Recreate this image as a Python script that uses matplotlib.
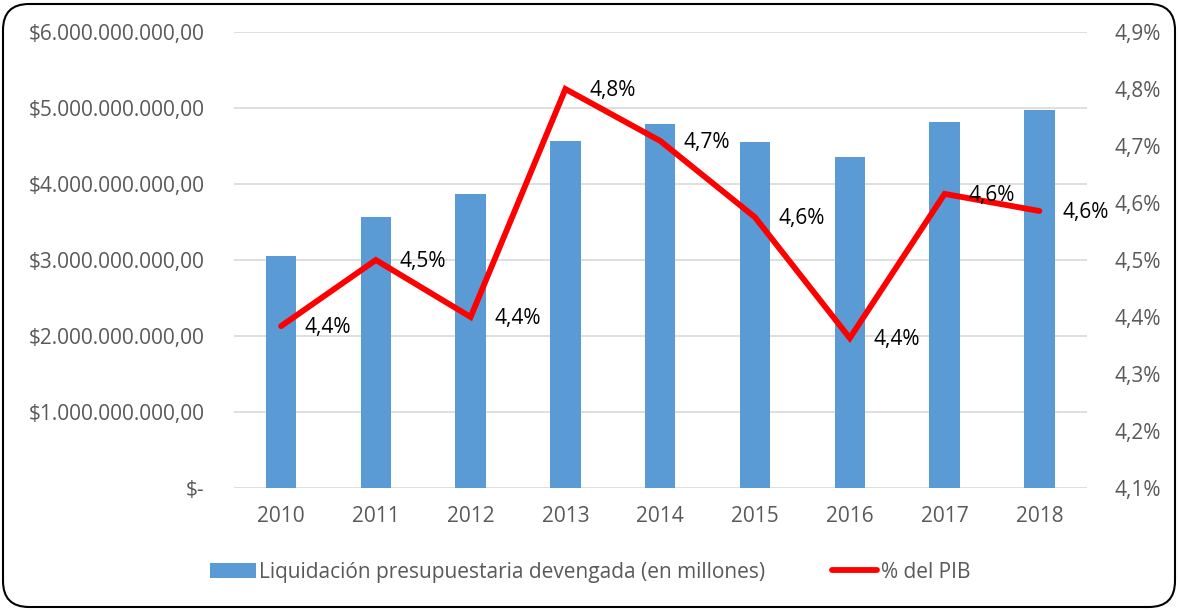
import matplotlib
matplotlib.use("Agg")
import matplotlib.pyplot as plt
from matplotlib.patches import FancyBboxPatch
from matplotlib.transforms import IdentityTransform
from matplotlib.ticker import FuncFormatter, MultipleLocator

years = ["2010", "2011", "2012", "2013", "2014", "2015", "2016", "2017", "2018"]
liquidacion = [3.05e9, 3.57e9, 3.87e9, 4.57e9, 4.79e9, 4.55e9, 4.36e9, 4.82e9, 4.97e9]
pct_pib = [4.384, 4.50, 4.40, 4.80, 4.709, 4.575, 4.363, 4.616, 4.586]
pct_labels = ["4,4%", "4,5%", "4,4%", "4,8%", "4,7%", "4,6%", "4,4%", "4,6%", "4,6%"]

plt.rcParams['font.family'] = ['Open Sans', 'DejaVu Sans']

fig = plt.figure(figsize=(11.8, 6.1), dpi=100)
border = FancyBboxPatch((3, 3), 1172, 603, boxstyle="round,pad=0,rounding_size=26",
                        transform=IdentityTransform(), facecolor="none", edgecolor="black",
                        linewidth=1.5, zorder=5)
fig.patches.append(border)

ax = fig.add_axes([0.198, 0.2, 0.723, 0.7475])
ax.set_facecolor("none")
x = list(range(len(years)))
bars = ax.bar(x, liquidacion, width=0.32, color="#5B9BD5", zorder=2)
ax.set_ylim(0, 6e9)
ax.set_xlim(-0.5, len(years) - 0.5)
ax.yaxis.set_major_locator(MultipleLocator(1e9))

def money(v, pos):
    if v == 0:
        return "$-"
    s = f"{v:,.2f}"
    s = s.replace(",", "X").replace(".", ",").replace("X", ".")
    return "$" + s

ax.yaxis.set_major_formatter(FuncFormatter(money))
ax.grid(axis="y", color="#D9D9D9", linewidth=1.2, zorder=0)
ax.set_axisbelow(True)
for s in ax.spines.values():
    s.set_visible(False)
ax.tick_params(axis="both", length=0, labelsize=15, colors="#595959")
ax.tick_params(axis="y", pad=21)
ax.tick_params(axis="x", pad=13)
ax.set_xticks(x)
ax.set_xticklabels(years)

ax2 = ax.twinx()
line, = ax2.plot(x, pct_pib, color="#FF0000", linewidth=4.2, zorder=3,
                 solid_capstyle="round", solid_joinstyle="miter")
ax2.set_ylim(4.1, 4.9)
ax2.yaxis.set_major_locator(MultipleLocator(0.1))
ax2.yaxis.set_major_formatter(FuncFormatter(lambda v, p: f"{v:.1f}".replace(".", ",") + "%"))
for s in ax2.spines.values():
    s.set_visible(False)
ax2.tick_params(axis="y", length=0, labelsize=15, colors="#595959", pad=20)

for xi, yi, lab in zip(x, pct_pib, pct_labels):
    ax2.annotate(lab, (xi, yi), xytext=(17, -1), textcoords="offset points",
                 ha="left", va="center", fontsize=15, color="black", zorder=4)

fig.legend([bars, line], ["Liquidación presupuestaria devengada (en millones)", "% del PIB"],
           loc="center", bbox_to_anchor=(0.5, 0.062), ncol=2, frameon=False,
           fontsize=15, labelcolor="#595959", handlelength=2.2, handletextpad=0.15,
           columnspacing=3.2)

fig.savefig("out.png", dpi=100)
